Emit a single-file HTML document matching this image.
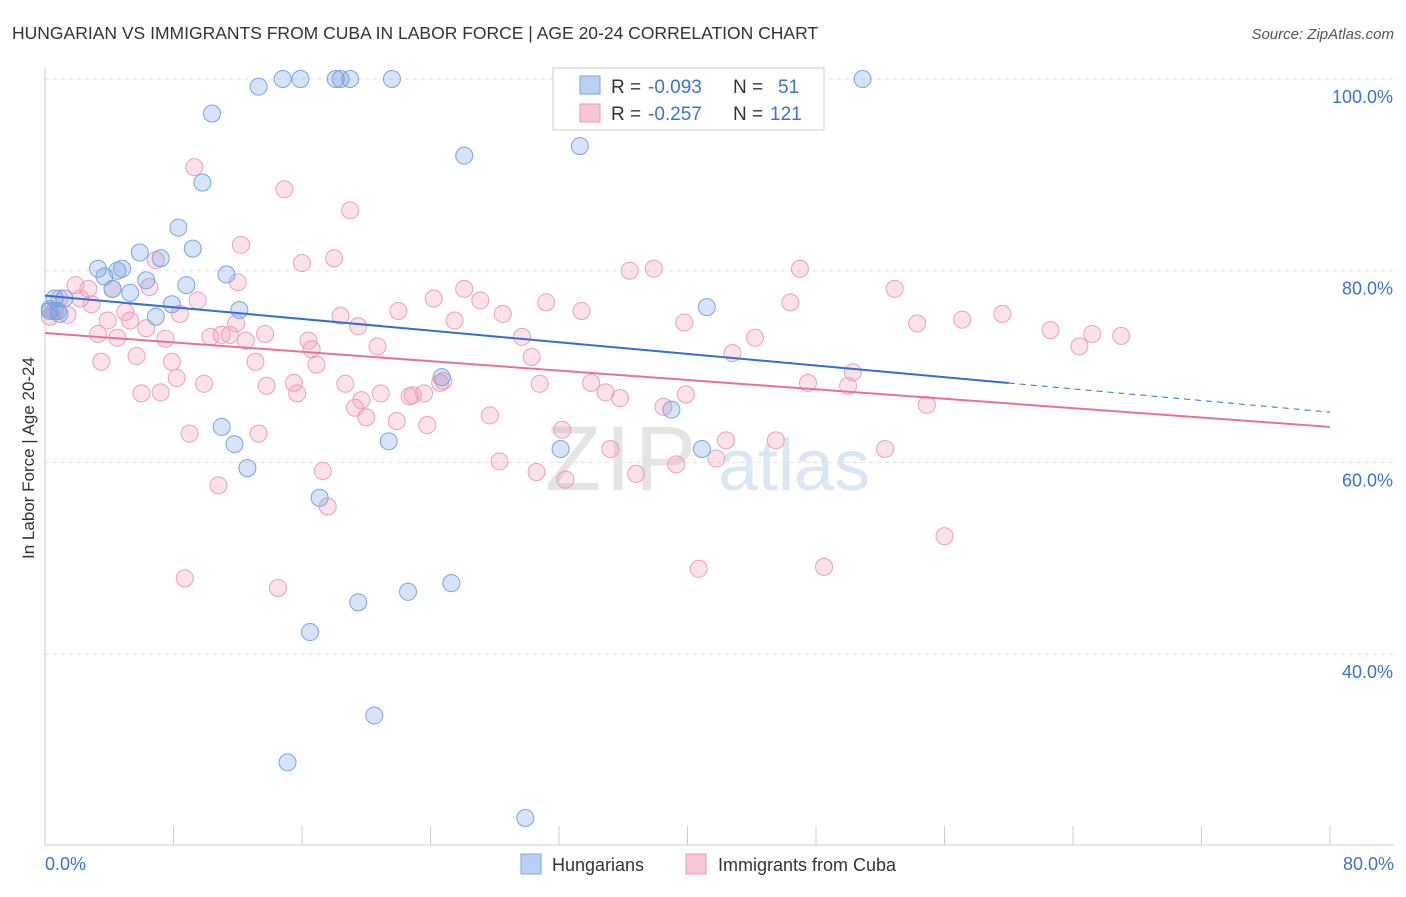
<!DOCTYPE html>
<html><head><meta charset="utf-8"><style>
body{margin:0;background:#fff;font-family:"Liberation Sans",sans-serif;}
svg text{font-family:"Liberation Sans",sans-serif;}
</style></head><body>
<svg id="chart" width="1406" height="892" viewBox="0 0 1406 892" xmlns="http://www.w3.org/2000/svg">
<text x="12" y="39" font-size="17.5" fill="#333">HUNGARIAN VS IMMIGRANTS FROM CUBA IN LABOR FORCE | AGE 20-24 CORRELATION CHART</text>
<text x="1394" y="39" font-size="15" fill="#555" font-style="italic" text-anchor="end">Source: ZipAtlas.com</text>
<g id="grid"></g>
<g>
<text x="545" y="490" font-size="92" fill="#e4e4e4" font-family="Liberation Serif" letter-spacing="4">ZIP</text>
<text x="718" y="490" font-size="72" fill="#dbe6f4">atlas</text>
</g>
<g id="axes"></g>
<g id="pts"></g>
<g id="trend"></g>
<text transform="translate(34,458) rotate(-90)" font-size="17" fill="#333" text-anchor="middle">In Labor Force | Age 20-24</text>
<g>
<rect x="553" y="68" width="271" height="62" fill="#fff" stroke="#ccc"/>
<rect x="580" y="76" width="20" height="18" fill="#b7d0f3" stroke="#7aa5e0"/>
<rect x="580" y="104" width="20" height="18" fill="#f8c6d6" stroke="#e89ab5"/>
<text x="611" y="93" font-size="19" fill="#333">R =</text>
<text x="648" y="93" font-size="19" fill="#3a73d0">-0.093</text>
<text x="733" y="93" font-size="19" fill="#333">N =</text>
<text x="778" y="93" font-size="19" fill="#3a73d0">51</text>
<text x="611" y="120" font-size="19" fill="#333">R =</text>
<text x="648" y="120" font-size="19" fill="#3a73d0">-0.257</text>
<text x="733" y="120" font-size="19" fill="#333">N =</text>
<text x="770" y="120" font-size="19" fill="#3a73d0">121</text>
</g>
<g>
<rect x="521" y="854" width="20" height="20" fill="#b7d0f3" stroke="#7aa5e0"/>
<text x="552" y="871" font-size="18" fill="#333">Hungarians</text>
<rect x="686" y="854" width="20" height="20" fill="#f8c6d6" stroke="#e89ab5"/>
<text x="718" y="871" font-size="18" fill="#333">Immigrants from Cuba</text>
</g>
</svg>
<script>
const xTickLabels=["0.0%","80.0%"];
const yTicks=[40,60,80,100];
const yTickLabels=["40.0%","60.0%","80.0%","100.0%"];
const blueX=[0.3,0.6,0.8,1.2,3.3,3.7,4.2,4.5,4.8,5.3,5.9,6.3,6.9,7.2,7.9,8.3,8.8,9.2,9.8,10.4,11.0,11.3,11.8,12.1,12.6,13.3,14.8,15.1,15.9,16.5,17.1,18.1,18.4,19.0,19.5,20.5,21.4,21.6,22.6,24.7,25.3,26.1,29.9,32.1,33.3,39.0,40.9,41.2,50.9,0.9,0.3];
const blueY=[75.8,77.1,75.8,77.1,80.2,79.4,78.1,80.0,80.2,77.7,81.9,79.0,75.2,81.3,76.5,84.5,78.5,82.3,89.2,96.4,63.7,79.6,61.9,75.9,59.4,99.2,100,28.7,100,42.3,56.3,100,100,100,45.4,33.6,62.2,100,46.5,68.9,47.4,92.0,22.9,61.4,93.0,65.5,61.4,76.2,100,75.5,76.0];
const pinkX=[0.3,0.6,0.9,1.4,1.9,2.2,2.7,2.9,3.3,3.5,3.9,4.2,4.5,5.0,5.3,5.7,6.0,6.3,6.5,6.9,7.2,7.5,7.9,8.2,8.4,8.7,9.0,9.3,9.5,9.9,10.3,10.8,11.0,11.5,11.9,12.0,12.2,12.5,13.1,13.3,13.7,13.8,14.5,14.9,15.5,15.7,16.0,16.4,16.6,16.9,17.3,17.6,18.0,18.4,18.7,19.0,19.3,19.5,19.7,20.0,20.7,20.9,21.9,22.0,22.7,22.9,23.6,23.8,24.2,24.6,24.8,25.5,26.1,27.1,27.7,28.3,28.5,29.7,30.3,30.6,30.8,31.2,32.2,32.4,33.4,34.0,34.9,35.2,35.8,36.4,36.8,37.9,38.5,39.3,39.8,39.9,40.7,41.8,42.4,42.8,44.2,45.5,46.4,47.0,47.5,48.5,50.0,50.3,52.3,52.9,54.3,54.9,56.0,57.1,59.6,62.6,64.4,65.2,67.0,12.1,11.2];
const pinkY=[75.2,75.8,77.1,75.4,78.5,77.1,78.1,76.5,73.4,70.5,74.8,78.1,73.0,75.7,74.8,71.1,67.2,74.0,78.3,81.1,67.3,72.9,70.5,68.8,75.5,47.9,63.0,90.8,76.9,68.2,73.1,57.6,73.3,73.3,74.5,78.8,82.7,72.7,70.5,63.0,73.4,68.0,46.9,88.5,68.3,67.2,80.8,72.7,71.8,70.2,59.1,55.4,81.3,75.3,68.2,86.3,65.7,74.2,66.5,64.7,72.1,67.2,64.3,75.8,66.9,67.0,67.2,63.9,77.1,68.3,68.5,74.8,78.1,76.9,64.9,60.1,75.5,73.1,71.0,59.0,68.2,76.7,63.4,58.2,75.8,68.3,67.3,61.4,66.7,80.0,58.8,80.2,65.8,59.8,74.6,67.1,48.9,60.4,62.3,71.4,73.0,62.3,76.7,80.2,68.3,49.1,68.0,69.4,61.4,78.1,74.5,66.0,52.3,74.9,75.5,73.8,72.1,73.4,73.2];
// trend: [intercept at 0%, slope per %]
const blueTrend=[77.4,-0.152];
const pinkTrend=[73.5,-0.1225];
const X=v=>45+v/80*1285, Y=v=>79+(100-v)*9.585;
const NS="http://www.w3.org/2000/svg";
function mk(t,a,p){const e=document.createElementNS(NS,t);for(const k in a)e.setAttribute(k,a[k]);p.appendChild(e);return e;}
const grid=document.getElementById('grid'),axes=document.getElementById('axes'),pts=document.getElementById('pts'),tr=document.getElementById('trend');
yTicks.forEach((v,i)=>{
 const l=mk('line',{x1:45,x2:1394,y1:Y(v),y2:Y(v),stroke:'#ddd','stroke-dasharray':'4,4'},grid);
 
 
 const t=mk('text',{x:1393,y:Y(v)+24,'font-size':18,fill:'#3a73d0','text-anchor':'end'},axes);
 t.textContent=yTickLabels[i];
 
 
});
mk('line',{x1:45,x2:45,y1:68,y2:845,stroke:'#ccc'},axes);
mk('line',{x1:45,x2:1394,y1:845,y2:845,stroke:'#ccc'},axes);
for(let i=0;i<=10;i++){mk('line',{x1:X(i*8),x2:X(i*8),y1:826,y2:845,stroke:'#ccc'},axes);}
[[0,"start",45],[80,"end",1394]].forEach((d,i)=>{
 const t=mk('text',{x:d[2],y:870,'font-size':18,fill:'#3a73d0','text-anchor':d[1]},axes);
 t.textContent=xTickLabels[i];
 
 
});
const np=Math.min(pinkX.length,pinkY.length);
for(let i=0;i<np;i++){const c=mk('circle',{cx:X(pinkX[i]),cy:Y(pinkY[i]),r:8.5,fill:'rgba(240,150,180,0.28)',stroke:'#eaa0bb','stroke-width':1},pts);
 
 }
const nb=Math.min(blueX.length,blueY.length);
for(let i=0;i<nb;i++){const c=mk('circle',{cx:X(blueX[i]),cy:Y(blueY[i]),r:8.5,fill:'rgba(110,155,230,0.28)',stroke:'#7aa5e0','stroke-width':1},pts);
 
 }
const bv=x=>blueTrend[0]+blueTrend[1]*x, pv=x=>pinkTrend[0]+pinkTrend[1]*x;
let l=mk('line',{x1:X(0),y1:Y(bv(0)),x2:X(60),y2:Y(bv(60)),stroke:'#2f6fd6','stroke-width':2},tr);


l=mk('line',{x1:X(60),y1:Y(bv(60)),x2:X(80),y2:Y(bv(80)),stroke:'#2f6fd6','stroke-width':1,'stroke-dasharray':'6,5'},tr);


l=mk('line',{x1:X(0),y1:Y(pv(0)),x2:X(80),y2:Y(pv(80)),stroke:'#e8709a','stroke-width':2},tr);


</script>
</body></html>
